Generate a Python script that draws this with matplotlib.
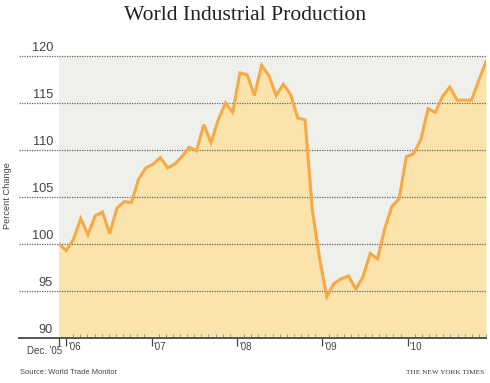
import numpy as np
import matplotlib
matplotlib.use('Agg')
import matplotlib.pyplot as plt
from matplotlib.transforms import blended_transform_factory

# monthly index, Dec. 2005 = 100
values = [100.0, 99.3, 100.5, 102.7, 101.0, 103.0, 103.4, 101.1, 103.8, 104.5,
          104.4, 106.9, 108.1, 108.5, 109.2, 108.1, 108.5, 109.3, 110.3, 109.9,
          112.7, 110.8, 113.2, 115.0, 114.0, 118.2, 118.0, 115.8, 119.0, 117.9,
          115.8, 117.0, 115.9, 113.4, 113.2, 103.6, 98.5, 94.4, 95.8, 96.3,
          96.6, 95.2, 96.5, 99.0, 98.4, 101.6, 104.0, 104.8, 109.3, 109.6,
          111.1, 114.4, 114.0, 115.7, 116.7, 115.3, 115.3, 115.3, 117.4, 119.4]

yticks = [90, 95, 100, 105, 110, 115, 120]
year_pos = [1, 13, 25, 37, 49]          # months after Dec. '05
year_labels = ["'06", "'07", "'08", "'09", "'10"]
n_months = 60

line_col = '#f6a945'
fill_col = '#fbe4ab'
bg_col = '#efefeb'
text_col = '#444444'

plt.rcParams['font.family'] = ['Liberation Sans', 'DejaVu Sans']

fig = plt.figure(figsize=(4.9, 3.83), dpi=100)
W, H = 490, 383
ax = fig.add_axes([59 / W, 1 - 338 / H, 427 / W, (338 - 56) / H])
ax.set_facecolor(bg_col)

x = np.linspace(0, n_months, len(values))
ax.fill_between(x, 90, values, color=fill_col, lw=0, zorder=1)
ax.plot(x, values, color=line_col, lw=2.2, solid_joinstyle='miter', zorder=3)

ax.set_xlim(0, n_months)
ax.set_ylim(90, 120)
for s in ax.spines.values():
    s.set_visible(False)

# dotted gridlines running out into the label area, labels sitting on them
tr = blended_transform_factory(ax.transAxes, ax.transData)
x0 = (19 - 59) / 427
for v in yticks[1:]:
    ax.plot([x0, 1], [v, v], transform=tr, clip_on=False, color='#666666',
            lw=0.9, ls=(0, (1, 1)), zorder=2)
ax.plot([x0, 1], [90, 90], transform=tr, clip_on=False, color='#555555',
        lw=1.4, zorder=4)
for v in yticks:
    ax.text(-6 / 427, v + 0.25, str(v), transform=tr, ha='right', va='bottom',
            fontsize=9.2, color=text_col)

# month ticks: minor ones inward, year ticks outward
ax.set_yticks([])
ax.set_xticks([0] + year_pos)
ax.set_xticklabels([])
ax.set_xticks(np.arange(0, n_months + 1), minor=True)
ax.tick_params(axis='x', which='major', direction='out', length=6, width=0.9,
               color='#444444')
ax.tick_params(axis='x', which='minor', direction='in', length=3, width=0.6,
               color='#888888')

trx = blended_transform_factory(ax.transData, fig.transFigure)
ax.text(0.4, 1 - 351 / H, "Dec. '05", transform=trx, ha='right', va='center',
        fontsize=7, color=text_col)
for p, lab in zip(year_pos, year_labels):
    ax.text(p + 0.3, 1 - 347 / H, lab, transform=trx, ha='left', va='center',
            fontsize=7, color=text_col)

fig.text(8 / W, 1 - 196 / H, 'Percent Change', rotation=90, ha='center',
         va='center', fontsize=6.7, color=text_col)
fig.text(0.5, 1 - 15 / H, 'World Industrial Production', ha='center',
         va='center', fontsize=15.6, family='Liberation Serif', color='#222222')
fig.text(20 / W, 1 - 372 / H, 'Source: World Trade Monitor', ha='left',
         va='center', fontsize=5.4, color=text_col)
fig.text(484 / W, 1 - 372 / H, 'THE NEW YORK TIMES', ha='right', va='center',
         fontsize=5.2, family='Liberation Serif', color='#333333')

fig.savefig('out.png', dpi=100)
